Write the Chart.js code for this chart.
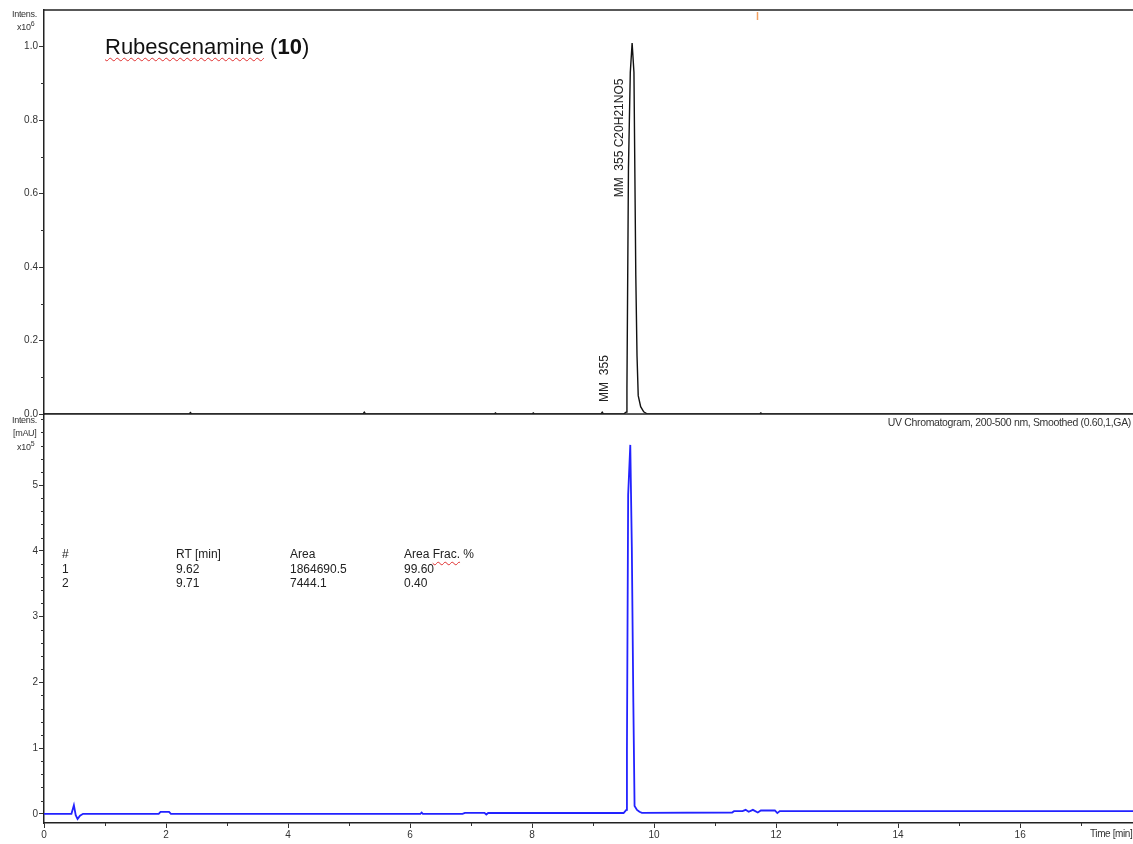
<!DOCTYPE html>
<html><head><meta charset="utf-8">
<script src="https://cdn.jsdelivr.net/npm/chart.js@4.4.1/dist/chart.umd.min.js"></script>
<style>
html,body{margin:0;padding:0;background:#fff;width:1133px;height:844px;overflow:hidden;font-family:"Liberation Sans",Arial,sans-serif;}
canvas{position:absolute;left:0;}
#c1{top:0;}
#c2{top:414px;}
.t{position:absolute;color:#222;white-space:nowrap;line-height:1;}
.sm{font-size:9px;letter-spacing:-0.3px;color:#333;}
.wavy{text-decoration:underline wavy #e03030;text-decoration-thickness:1px;text-underline-offset:3px;}
sup{font-size:7px;vertical-align:4px;line-height:0;}
.tab{font-size:12px;color:#222;}
</style></head><body>
<canvas id="c1" width="1133" height="424"></canvas>
<canvas id="c2" width="1133" height="430"></canvas>

<div class="t" style="left:105px;top:36px;font-size:22px;color:#111;"><span class="wavy">Rubescenamine</span> (<b>10</b>)</div>

<div class="t sm" style="left:12px;top:10px;">Intens.</div>
<div class="t sm" style="left:17px;top:23px;">x10<sup>6</sup></div>
<div class="t sm" style="left:12px;top:416px;">Intens.</div>
<div class="t sm" style="left:13px;top:429px;">[mAU]</div>
<div class="t sm" style="left:17px;top:443px;">x10<sup>5</sup></div>
<div class="t sm" style="left:1090px;top:829px;font-size:10px;letter-spacing:-0.4px;">Time [min]</div>
<div class="t sm" style="right:2px;top:417px;font-size:10.5px;letter-spacing:-0.35px;">UV Chromatogram, 200-500 nm, Smoothed (0.60,1,GA)</div>

<div id="table"></div>

<script>
// ---------- data ----------
const xTicks = [0, 2, 4, 6, 8, 10, 12, 14, 16];
const xMinorTicks = [1, 3, 5, 7, 9, 11, 13, 15, 17];

const topTicks = [0.0, 0.2, 0.4, 0.6, 0.8, 1.0];
const topMinorTicks = [0.1, 0.3, 0.5, 0.7, 0.9];
const botTicks = [0, 1, 2, 3, 4, 5];
const botMinorTicks = [0.2,0.4,0.6,0.8,1.2,1.4,1.6,1.8,2.2,2.4,2.6,2.8,3.2,3.4,3.6,3.8,4.2,4.4,4.6,4.8,5.2,5.4,5.6,5.8,6.0];

// top trace: MS intensity (x10^6) vs time (min)
const msTime = [0, 2.38, 2.40, 2.42, 5.23, 5.25, 5.27, 7.38, 7.40, 7.42, 8.00, 8.02, 8.04,
  9.13, 9.15, 9.17, 9.50, 9.54, 9.555, 9.58, 9.61, 9.64, 9.67, 9.70, 9.72, 9.74, 9.78, 9.83, 9.89,
  11.73, 11.75, 11.77, 17.9];
const msIntens = [0, 0, 0.004, 0, 0, 0.005, 0, 0, 0.003, 0, 0, 0.003, 0,
  0, 0.005, 0, 0, 0.005, 0.07, 0.67, 0.93, 1.01, 0.93, 0.38, 0.16, 0.05, 0.02, 0.006, 0,
  0, 0.003, 0, 0];

// bottom trace: UV intensity (mAU x10^5) vs time (min)
const uvTime = [0, 0.45, 0.49, 0.52, 0.55, 0.59, 0.64, 1.88, 1.91, 2.05, 2.08, 6.17, 6.19, 6.21,
  6.86, 6.90, 7.22, 7.25, 7.28, 9.50, 9.545, 9.555, 9.575, 9.61, 9.635, 9.66, 9.68, 9.72, 9.76, 9.80,
  11.28, 11.31, 11.45, 11.50, 11.55, 11.62, 11.70, 11.75, 11.85, 11.98, 12.02, 12.06, 17.9];
const uvIntens = [0, 0, 0.13, -0.02, -0.08, -0.03, 0, 0, 0.03, 0.03, 0, 0, 0.02, 0,
  0, 0.015, 0.015, -0.01, 0.012, 0.012, 0.06, 0.97, 4.85, 5.61, 4.06, 1.69, 0.12, 0.06, 0.03, 0.015,
  0.02, 0.04, 0.04, 0.06, 0.03, 0.06, 0.02, 0.05, 0.05, 0.05, 0.01, 0.04, 0.04];

// peak annotations on the MS trace
const annText = ['MM  355 C20H21NO5', 'MM  355'];
const annTime = [9.64, 9.15];
const annValue = [0.59, 0.033];
const markerTime = [11.69];

// integration table
const tabHeader = ['#', 'RT [min]', 'Area', 'Area Frac. %'];
const tabNo = ['1', '2'];
const tabRT = ['9.62', '9.71'];
const tabArea = ['1864690.5', '7444.1'];
const tabFrac = ['99.60', '0.40'];

// ---------- table ----------
(function(){
  const colX = [62, 176, 290, 404];
  const rowY = [548, 563, 577];
  const host = document.getElementById('table');
  const rows = [tabHeader].concat(tabNo.map((n,i)=>[n, tabRT[i], tabArea[i], tabFrac[i]]));
  rows.forEach((r,ri)=>r.forEach((txt,ci)=>{
    const d=document.createElement('div');
    d.className='t tab';
    d.style.left=colX[ci]+'px'; d.style.top=rowY[ri]+'px';
    if (ri===0 && ci===3) d.innerHTML='Area <span class="wavy">Frac.</span> %';
    else d.textContent=txt;
    host.appendChild(d);
  }));
})();

// ---------- charts ----------
const AX = '#333';
const FONT = {family:'"Liberation Sans", Arial, sans-serif', size:10};

const decor = {
  id:'decor',
  afterDraw(chart, args, o){
    const ctx=chart.ctx, a=chart.chartArea, xs=chart.scales.x, ys=chart.scales.y;
    ctx.save();
    ctx.strokeStyle=AX; ctx.lineWidth=1;
    ctx.beginPath();
    o.yMinor.forEach(v=>{const p=Math.round(ys.getPixelForValue(v))+0.5; ctx.moveTo(a.left-3,p); ctx.lineTo(a.left,p);});
    if (o.xMinor) o.xMinor.forEach(v=>{const p=Math.round(xs.getPixelForValue(v))+0.5; ctx.moveTo(p,a.bottom); ctx.lineTo(p,a.bottom+3);});
    ctx.stroke();
    ctx.lineWidth=1.5; ctx.strokeStyle='#222';
    ctx.beginPath();
    if (o.frameTop){ ctx.moveTo(a.left,a.top); ctx.lineTo(a.right,a.top); }
    if (o.frameBottom){ ctx.moveTo(a.left,a.bottom); ctx.lineTo(a.right,a.bottom); }
    ctx.stroke();
    if (o.ann){
      ctx.fillStyle='#222';
      ctx.font='12px "Liberation Sans", Arial, sans-serif';
      ctx.textBaseline='middle'; ctx.textAlign='left';
      annText.forEach((t,i)=>{
        const px = xs.getPixelForValue(annTime[i]) + (i===0 ? -12 : 2);
        const py = ys.getPixelForValue(annValue[i]);
        ctx.save(); ctx.translate(px,py); ctx.rotate(-Math.PI/2); ctx.fillText(t,0,0); ctx.restore();
      });
      ctx.strokeStyle='#f2a060'; ctx.lineWidth=1.5;
      markerTime.forEach(m=>{const p=Math.round(xs.getPixelForValue(m))+0.5; ctx.beginPath(); ctx.moveTo(p,a.top+2); ctx.lineTo(p,a.top+10); ctx.stroke();});
    }
    ctx.restore();
  }
};

function pts(xs, ys){ return xs.map((x,i)=>({x:x, y:ys[i]})); }
function noPadY(s){ s.width=44; s.paddingTop=0; s.paddingBottom=0; }
function noPadX(s){ s.height=21; s.paddingLeft=0; s.paddingRight=0; }

new Chart(document.getElementById('c1'), {
  type:'line',
  data:{datasets:[{data:pts(msTime,msIntens), borderColor:'#111', borderWidth:1.4, pointRadius:0, tension:0, fill:false}]},
  options:{
    responsive:false, animation:false, devicePixelRatio:1,
    layout:{padding:{top:10, bottom:10, left:0, right:0}},
    plugins:{legend:{display:false}, tooltip:{enabled:false},
      decor:{yMinor:topMinorTicks, frameTop:true, frameBottom:true, ann:true}},
    scales:{
      x:{type:'linear', min:0, max:17.85, display:false},
      y:{type:'linear', min:0, max:1.1,
        afterFit:noPadY,
        afterBuildTicks(s){s.ticks=topTicks.map(v=>({value:v}));},
        grid:{display:true, drawOnChartArea:false, drawTicks:true, tickLength:5, color:AX},
        border:{display:true, color:'#222', width:1.5},
        ticks:{font:FONT, color:AX, padding:1, callback:v=>v.toFixed(1)}}
    }
  },
  plugins:[decor]
});

new Chart(document.getElementById('c2'), {
  type:'line',
  data:{datasets:[{data:pts(uvTime,uvIntens), borderColor:'#2222ff', borderWidth:1.8, pointRadius:0, tension:0, fill:false}]},
  options:{
    responsive:false, animation:false, devicePixelRatio:1,
    layout:{padding:{top:0, bottom:0, left:0, right:0}},
    plugins:{legend:{display:false}, tooltip:{enabled:false},
      decor:{yMinor:botMinorTicks, xMinor:xMinorTicks, frameTop:false, frameBottom:false, ann:false}},
    scales:{
      x:{type:'linear', min:0, max:17.85,
        afterFit:noPadX,
        afterBuildTicks(s){s.ticks=xTicks.map(v=>({value:v}));},
        grid:{display:true, drawOnChartArea:false, drawTicks:true, tickLength:5, color:AX},
        border:{display:true, color:'#222', width:1.5},
        ticks:{font:FONT, color:AX, padding:1, maxRotation:0, autoSkip:false}},
      y:{type:'linear', min:-0.14, max:6.08,
        afterFit:noPadY,
        afterBuildTicks(s){s.ticks=botTicks.map(v=>({value:v}));},
        grid:{display:true, drawOnChartArea:false, drawTicks:true, tickLength:5, color:AX},
        border:{display:true, color:'#222', width:1.5},
        ticks:{font:FONT, color:AX, padding:1}}
    }
  },
  plugins:[decor]
});
</script>
</body></html>
